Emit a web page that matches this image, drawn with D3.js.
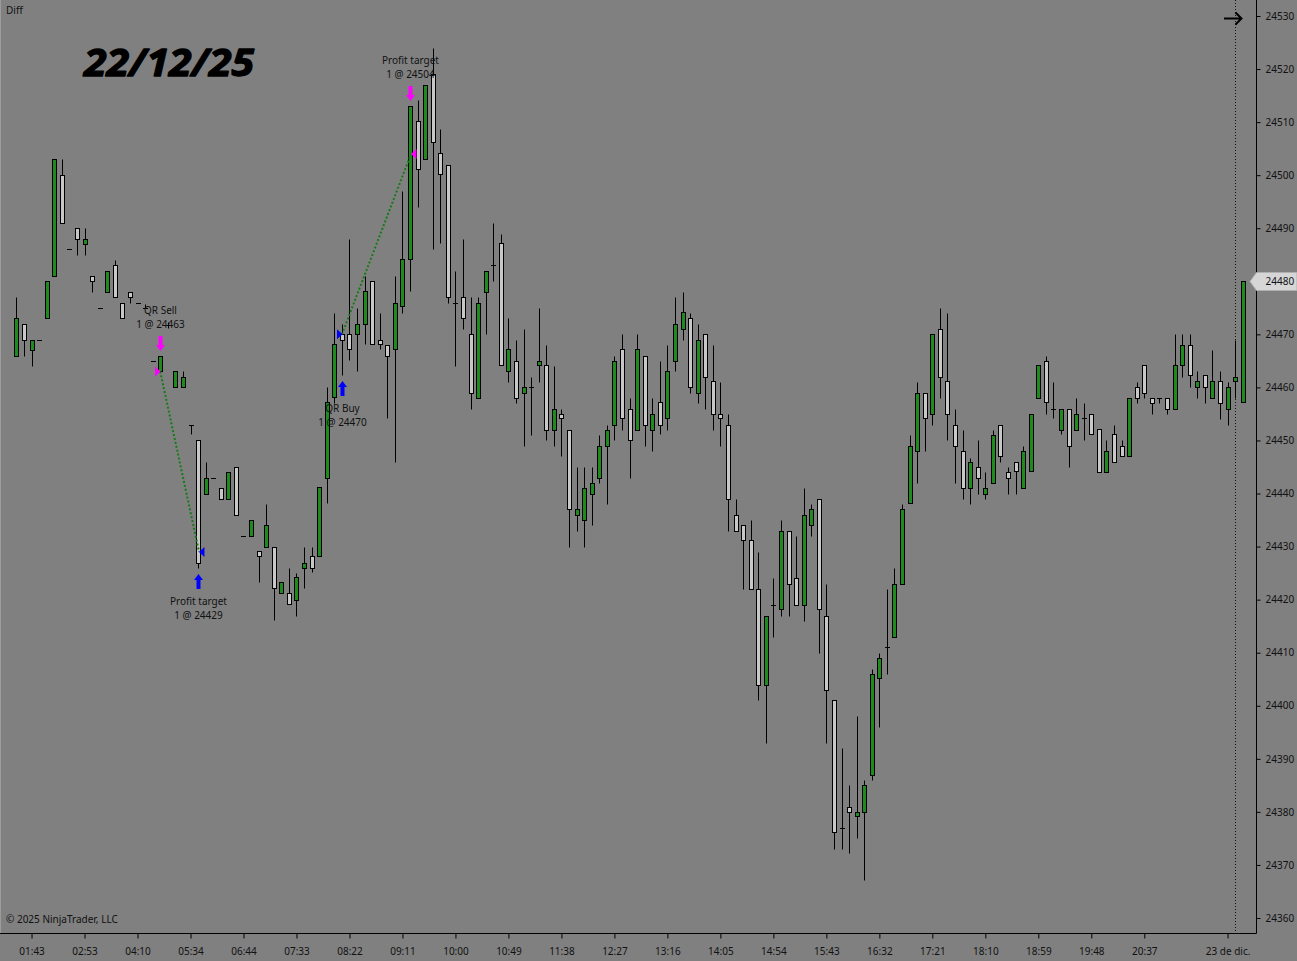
<!DOCTYPE html>
<html>
<head>
<meta charset="utf-8">
<script src="https://cdn.jsdelivr.net/npm/d3@7/dist/d3.min.js"></script>
<style>
html, body { margin: 0; padding: 0; background: #808080; overflow: hidden; }
text { font-family: "Noto Sans", "Open Sans", sans-serif; }
</style>
</head>
<body>
<script>
var width = 1297, height = 961

// time axis labels and the bar index they sit on
var timeLabels = ["01:43","02:53","04:10","05:34","06:44","07:33","08:22","09:11","10:00","10:49","11:38",
  "12:27","13:16","14:05","14:54","15:43","16:32","17:21","18:10","18:59","19:48","20:37","23 de dic."]
var labelBars = [2,9,16,23,30,37,44,51,58,65,72,79,86,93,100,107,114,121,128,135,142,149,160]

// OHLC per bar
var opens = [24466,24472,24467,24469,24473,24481,24500,24486,24490,24487,24481,24475,24478,24483,24476,24478,24476,24475,24465,24463,
  24471.75,24460,24460,24453,24450,24440,24443,24441,24439,24445,24432,24432,24429.25,24430,24430,24421.25,24421.25,24420,24426,24428.25,
  24428.25,24443,24458.25,24470,24470,24470,24472,24480,24469,24468,24467.25,24475.25,24484.25,24510.25,24503,24519,24504.25,24502,24476,24477,
  24470,24458,24478,24483,24487.25,24463,24465,24459,24460,24464.25,24464.25,24452,24455,24452,24436,24435,24440,24443,24449,24453,
  24467.25,24456,24452,24466,24452,24457.25,24454.25,24465,24471,24473,24459,24470,24461.25,24455,24453,24436,24434,24431.25,24422,24404,
  24419,24418.25,24433,24424,24419,24434,24439,24417,24401,24377,24381,24379.25,24380,24387,24405.25,24411,24413,24423,24438.25,24448,
  24459,24455,24471,24461.25,24453,24448,24441,24445,24440,24442,24453,24444,24446,24441,24444.25,24458,24465,24456,24452,24456,
  24452,24454.25,24455,24452.25,24444,24451.25,24449,24447,24460,24464.25,24458,24458,24458,24456,24464.25,24468,24460,24462.25,24458,24461.25,
  24456,24461.25,24457.25]
var highs = [24477,24472,24469,24469,24480,24503,24503,24486,24490,24490,24481,24475,24482,24484,24476,24478,24476,24475.75,24465,24466,
  24472.25,24463,24463,24453,24450,24446,24443,24441,24444,24445,24432,24435,24429.25,24438,24430,24423.25,24426,24425,24430,24430,
  24441.25,24460,24474,24472,24488,24475,24481,24480,24474,24468,24481,24497,24513,24514.25,24517,24524,24508.75,24502,24482,24488,
  24477,24477,24482,24491,24489,24473,24469,24471,24462,24475,24468,24464,24456,24452,24445,24445,24445,24451,24453,24466,
  24470,24458,24470,24466,24458,24465,24468,24477,24478,24474,24472,24470,24468,24461,24455,24439,24434,24435,24429,24417,
  24424,24435,24433,24432,24441,24438,24439,24423,24401,24392,24385,24398,24386,24407,24410,24422,24426,24438,24451,24461,
  24459,24470,24475,24474,24456,24452,24446.75,24450,24444,24452,24453,24445,24446,24449,24455,24464.25,24466,24461,24456,24456,
  24458,24457,24455,24452.25,24450,24453,24450,24458,24461,24464.25,24458,24458,24458,24470,24470,24470,24463,24462.25,24467,24463,
  24461,24469,24480]
var lows = [24466,24466,24464,24469,24473,24481,24491,24486,24485,24485,24478,24475,24478,24477,24473,24476,24476,24475,24465,24463,
  24471.25,24460,24460,24451.25,24426,24440,24443,24439,24439,24436,24432,24432,24423.25,24430,24416.25,24421.25,24419.25,24417,24422.25,24425.25,
  24428.25,24438.25,24457,24462.25,24465.25,24463,24468.25,24468.25,24467.25,24454.25,24446,24474,24478.25,24494,24503,24486,24487.25,24476,24464,24471,
  24456,24458,24470,24480,24464.25,24461,24457,24449,24451,24461,24450,24449,24447,24430,24433,24430,24434,24442,24438,24450,
  24452,24443,24452,24449,24448,24451.25,24452,24463,24469,24459,24457,24456,24452,24449,24433,24433,24422,24422,24401,24393,
  24413,24417,24417,24419,24416,24432,24410,24393,24373,24373,24372.25,24375,24367.25,24386,24396,24406,24413,24423,24438.25,24442,
  24448,24453,24458,24450,24442,24439,24438,24440,24439,24442,24446,24440,24440,24441,24444.25,24458,24455,24454.25,24451.25,24445,
  24452,24450,24451.25,24444,24444,24446,24447,24447,24457,24458,24455,24457,24455,24456,24462,24460,24458,24457,24458,24454,
  24453,24458,24457.25]
var closes = [24473,24469,24469,24469,24480,24503,24491,24486,24488,24488,24480,24475,24482,24477,24473,24477,24476,24475,24465,24466,
  24471.75,24463,24462,24453,24427,24443,24443,24439,24444,24436,24432,24435,24428.25,24434,24422.25,24423.25,24419.25,24424.25,24427,24426,
  24441.25,24457.25,24468.25,24469,24467.25,24472,24478.25,24468.25,24468.25,24466,24476,24484.25,24513,24501.25,24517,24506.25,24500.25,24477,24476,24473,
  24459,24476,24482,24483,24464.25,24467.25,24458,24460,24460,24465,24452,24456,24454.25,24437,24437,24441,24442,24449,24452,24465,
  24454.25,24450,24467.25,24453,24455,24453,24463,24472,24474.25,24460,24469,24462,24455,24454.25,24439,24433,24431.25,24422,24404,24417,
  24419,24433,24423,24419,24436,24437,24418.25,24403,24376.25,24377,24380,24380,24385,24406,24409,24411,24423,24437,24449,24459,
  24454.25,24470,24462,24455,24449,24441,24446,24443,24441,24451,24447,24443,24444.25,24448,24455,24464.25,24457.25,24456,24456,24449,
  24455,24454.25,24451.25,24444,24448,24446,24447,24458,24458,24459,24457,24458,24456,24464.25,24468,24462.25,24461.25,24460,24461.25,24457,
  24460,24462,24480]

// executions
var tradeBars = [19, 24, 43, 52]
var tradePrices = [24463, 24429, 24470, 24504]
var tradeNames = ["QR Sell", "Profit target", "QR Buy", "Profit target"]
var tradeActions = ["sell", "buy", "buy", "sell"]

var priceTicks = d3.range(24360, 24531, 10)
var lastPrice = 24480

var x = d3.scaleLinear().domain([0, opens.length - 1]).range([16.4, 1242.7])
var y = d3.scaleLinear().domain([24360, 24530]).range([918, 16])

var svg = d3.select("body").append("svg")
  .attr("width", width)
  .attr("height", height)
  .style("display", "block")

svg.append("rect").attr("width", width).attr("height", height).attr("fill", "#808080")

// left edge
svg.append("line").attr("x1", 0.5).attr("x2", 0.5).attr("y1", 0).attr("y2", 933)
  .attr("stroke", "#9c9c9c")

// session break
svg.append("line")
  .attr("x1", 1235.5).attr("x2", 1235.5).attr("y1", 0).attr("y2", 933)
  .attr("stroke", "#111").attr("stroke-dasharray", "1,2")

function px(i) { return Math.round(x(i)) }
function py(v) { return Math.round(y(v)) + 0.5 }

var candles = svg.append("g").selectAll("g")
  .data(d3.range(opens.length))
  .enter()
  .append("g")

candles.append("line")
  .attr("x1", function(i) { return px(i) + 0.5 })
  .attr("x2", function(i) { return px(i) + 0.5 })
  .attr("y1", function(i) { return py(highs[i]) })
  .attr("y2", function(i) { return py(lows[i]) })
  .attr("stroke", "#000")
  .attr("stroke-width", 1)

candles.filter(function(i) { return opens[i] !== closes[i] })
  .append("rect")
  .attr("x", function(i) { return px(i) - 1.5 })
  .attr("width", 4)
  .attr("y", function(i) { return py(Math.max(opens[i], closes[i])) })
  .attr("height", function(i) { return py(Math.min(opens[i], closes[i])) - py(Math.max(opens[i], closes[i])) })
  .attr("fill", function(i) { return closes[i] > opens[i] ? "#1f8b1f" : "#c8c8c8" })
  .attr("stroke", "#000")
  .attr("stroke-width", 1)

candles.filter(function(i) { return opens[i] === closes[i] })
  .append("line")
  .attr("x1", function(i) { return px(i) - 2 })
  .attr("x2", function(i) { return px(i) + 3 })
  .attr("y1", function(i) { return py(opens[i]) })
  .attr("y2", function(i) { return py(opens[i]) })
  .attr("stroke", "#000")
  .attr("stroke-width", 1)

// trades
var trades = svg.append("g")
var magenta = "#ff00ff", blue = "#0000ff"

for (var t = 0; t < tradeBars.length; t += 2) {
  var xa = x(tradeBars[t]), xb = x(tradeBars[t + 1])
  trades.append("line")
    .attr("x1", xa).attr("y1", y(tradePrices[t]))
    .attr("x2", xb + 1).attr("y2", y(tradePrices[t + 1]))
    .attr("stroke", "#177a17").attr("stroke-width", 2)
    .attr("stroke-dasharray", "2,2")
}

tradeBars.forEach(function(b, t) {
  var cx = Math.round(x(b)) + 0.5
  var ty = y(tradePrices[t])
  var col = tradeActions[t] === "sell" ? magenta : blue
  // execution triangle: entries on the left pointing right, exits on the right pointing left
  if (t % 2 === 0) {
    trades.append("path")
      .attr("d", "M" + (cx - 5.5) + "," + (ty - 5) + "L" + cx + "," + ty + "L" + (cx - 5.5) + "," + (ty + 5) + "Z")
      .attr("fill", col)
  } else {
    trades.append("path")
      .attr("d", "M" + (cx + 6) + "," + (ty - 5) + "L" + (cx + 0.5) + "," + ty + "L" + (cx + 6) + "," + (ty + 5) + "Z")
      .attr("fill", col)
  }
  var line1, line2
  if (tradeActions[t] === "sell") {
    var yb = Math.round(y(highs[b])) - 5
    trades.append("path")
      .attr("d", "M" + (cx - 2) + "," + (yb - 15) + "L" + (cx + 2) + "," + (yb - 15) + "L" + (cx + 2) + "," + (yb - 6) +
        "L" + (cx + 4.5) + "," + (yb - 6) + "L" + cx + "," + yb + "L" + (cx - 4.5) + "," + (yb - 6) + "L" + (cx - 2) + "," + (yb - 6) + "Z")
      .attr("fill", col)
    line2 = yb - 27
    line1 = line2 - 14
  } else {
    var yt = Math.round(y(lows[b])) + 6
    trades.append("path")
      .attr("d", "M" + (cx - 2) + "," + (yt + 15) + "L" + (cx + 2) + "," + (yt + 15) + "L" + (cx + 2) + "," + (yt + 6) +
        "L" + (cx + 4.5) + "," + (yt + 6) + "L" + cx + "," + yt + "L" + (cx - 4.5) + "," + (yt + 6) + "L" + (cx - 2) + "," + (yt + 6) + "Z")
      .attr("fill", col)
    line1 = yt + 27
    line2 = line1 + 14
  }
  trades.append("text").attr("x", cx).attr("y", line1).attr("dy", "0.35em")
    .attr("text-anchor", "middle").attr("font-size", 10).attr("fill", "#111")
    .text(tradeNames[t])
  trades.append("text").attr("x", cx).attr("y", line2).attr("dy", "0.35em")
    .attr("text-anchor", "middle").attr("font-size", 10).attr("fill", "#111")
    .text("1 @ " + tradePrices[t])
})

// axes
var xAxis = d3.axisBottom(x)
  .tickValues(labelBars)
  .tickFormat(function(d, i) { return timeLabels[i] })
  .tickSize(5)

var gx = svg.append("g").attr("transform", "translate(0,933.5)").call(xAxis)
gx.select(".domain").remove()
gx.selectAll(".tick line").attr("stroke", "#000")
gx.selectAll(".tick text").attr("y", 14).attr("font-size", 10).attr("fill", "#111")
  .attr("font-family", "Noto Sans, Open Sans, sans-serif")

svg.append("line").attr("x1", 0).attr("x2", 1256.5).attr("y1", 933.5).attr("y2", 933.5)
  .attr("stroke", "#000")

var yAxis = d3.axisRight(y)
  .tickValues(priceTicks)
  .tickSize(4)
  .tickPadding(5)
  .tickFormat(function(d) { return d === lastPrice ? "" : d })

var gy = svg.append("g").attr("transform", "translate(1256.5,0)").call(yAxis)
gy.select(".domain").remove()
gy.selectAll(".tick line").attr("stroke", "#000")
gy.selectAll(".tick text").attr("font-size", 10).attr("fill", "#111")
  .attr("font-family", "Noto Sans, Open Sans, sans-serif")

svg.append("line").attr("x1", 1256.5).attr("x2", 1256.5).attr("y1", 0).attr("y2", 933.5)
  .attr("stroke", "#000")

// last price marker
var ly = Math.round(y(lastPrice)) + 0.5
svg.append("path")
  .attr("d", "M1250," + ly + "L1256.5," + (ly - 9) + "L1297," + (ly - 9) + "L1297," + (ly + 9) + "L1256.5," + (ly + 9) + "Z")
  .attr("fill", "#d6d6d6").attr("stroke", "#b0b0b0")
svg.append("text").attr("x", 1265.5).attr("y", ly).attr("dy", "0.35em")
  .attr("font-size", 10).attr("fill", "#111").text(lastPrice)

// scroll arrow
svg.append("path")
  .attr("d", "M1224,18.5L1241,18.5M1235.5,12.5L1241.5,18.5L1235.5,24.5")
  .attr("fill", "none").attr("stroke", "#000").attr("stroke-width", 2)

// labels
svg.append("text").attr("x", 6).attr("y", 14).attr("font-size", 10).attr("fill", "#111").text("Diff")
svg.append("text").attr("x", 6).attr("y", 923).attr("font-size", 10).attr("fill", "#111")
  .text("\u00a9 2025 NinjaTrader, LLC")
svg.append("text")
  .attr("x", 84).attr("y", 76)
  .attr("font-family", "Liberation Sans, Arial, sans-serif")
  .attr("font-weight", "bold").attr("font-style", "italic")
  .attr("font-size", 38)
  .attr("textLength", 170).attr("lengthAdjust", "spacingAndGlyphs")
  .attr("fill", "#000").attr("stroke", "#000").attr("stroke-width", 1.3)
  .attr("stroke-linejoin", "round")
  .text("22/12/25")
</script>
</body>
</html>
